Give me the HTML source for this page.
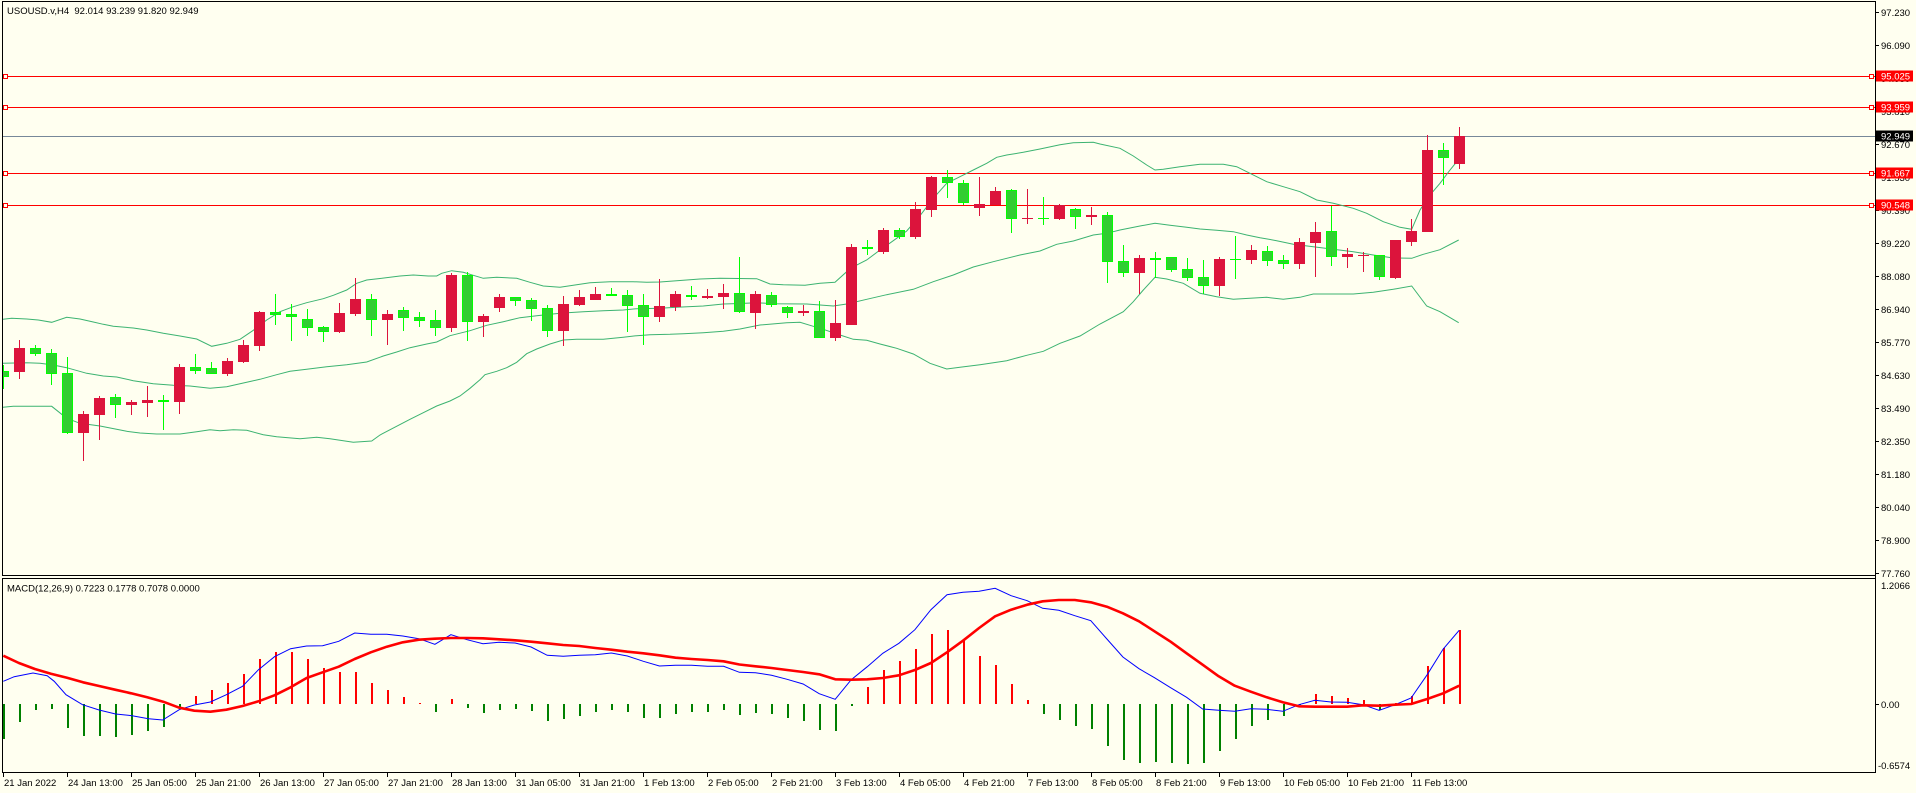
<!DOCTYPE html>
<html><head><meta charset="utf-8"><style>
html,body{margin:0;padding:0;background:#FFFFF0;}
svg{display:block;}
text{font-family:"Liberation Sans",Arial,sans-serif;font-size:9.5px;fill:#000;}
.rw{stroke:#DC143C;stroke-width:1;fill:none;}
.gw{stroke:#00FF00;stroke-width:1;fill:none;}
.r{fill:#DC143C;}
.g{fill:#32CD32;stroke:#00FF00;stroke-width:1;}
.gd{fill:#00FF00;}
.hr{fill:#FF0000;}
.hg{fill:#008000;}
.bb{fill:none;stroke:#3CB371;stroke-width:1;}
</style></head><body>
<svg width="1916" height="793" viewBox="0 0 1916 793" xmlns="http://www.w3.org/2000/svg">
<rect x="0" y="0" width="1916" height="793" fill="#FFFFF0"/>
<defs>
<clipPath id="cm"><rect x="3" y="2" width="1872" height="573"/></clipPath>
<clipPath id="cd"><rect x="3" y="579" width="1872" height="193"/></clipPath>
</defs>

<!-- horizontal level lines -->
<g shape-rendering="crispEdges">
<line x1="2" y1="76.5" x2="1875" y2="76.5" stroke="#FF0000"/>
<line x1="2" y1="107.5" x2="1875" y2="107.5" stroke="#FF0000"/>
<line x1="2" y1="136.5" x2="1875" y2="136.5" stroke="#778899"/>
<line x1="2" y1="173.5" x2="1875" y2="173.5" stroke="#FF0000"/>
<line x1="2" y1="205.5" x2="1875" y2="205.5" stroke="#FF0000"/>
<rect x="3.5" y="74.5" width="4" height="4" fill="#FFFFF0" stroke="#FF0000"/>
<rect x="3.5" y="105.5" width="4" height="4" fill="#FFFFF0" stroke="#FF0000"/>
<rect x="3.5" y="171.5" width="4" height="4" fill="#FFFFF0" stroke="#FF0000"/>
<rect x="3.5" y="203.5" width="4" height="4" fill="#FFFFF0" stroke="#FF0000"/>
<rect x="1869.5" y="74.5" width="4" height="4" fill="#FFFFF0" stroke="#FF0000"/>
<rect x="1869.5" y="105.5" width="4" height="4" fill="#FFFFF0" stroke="#FF0000"/>
<rect x="1869.5" y="171.5" width="4" height="4" fill="#FFFFF0" stroke="#FF0000"/>
<rect x="1869.5" y="203.5" width="4" height="4" fill="#FFFFF0" stroke="#FF0000"/>
</g>

<g clip-path="url(#cm)">
<!-- Bollinger bands -->
<polyline class="bb" points="2.7,319.3 11.7,318.3 26.7,319 38.3,320 51.7,322.3 66.7,317.3 80,319 93.3,322 103.3,324.3 113.3,326.3 133.3,328 146.7,330 163.3,333.3 180,336 196.7,339 211.7,346.3 226.7,343.3 240,339.3 253.3,330.3 266.7,320 280,311.7 293.3,306.7 306.7,302.7 323.3,298.7 333.3,295.3 346.7,290 356.7,283.3 366.7,280 380,278.5 400,276 413.3,275 428.3,276 436.7,276 441.7,273.3 451.7,270.7 463.3,272.3 473.3,275.3 483.3,278.3 496.7,277.3 516.7,278.3 530,282.3 543.3,286 560,287.3 573.3,285.3 590,282.7 610,281.7 633.3,281.7 646.7,282.3 660,282 673.3,281 700,279 720,278.3 756.7,278.7 770,284 783.3,284.7 805,285.3 820,283.3 835,282.3 846.7,271.7 856.7,265 866.7,260 880,250 893.3,240.7 906.7,231 920,215.7 933.3,198.3 946.7,183.3 960,176.7 973.3,170 986.7,163.3 996.7,157.3 1006.7,155 1023.3,152.3 1040,149 1060,144.7 1073.3,142.7 1093.3,142.3 1100,144 1120,148.3 1133.3,156 1146.7,165 1155,170 1163.3,169.3 1180,166.7 1200,164.3 1223.3,164.3 1236.7,166.7 1246.7,171.7 1266.7,181.7 1283.3,186.7 1300,191.7 1316.7,200 1333.3,203.3 1353.3,208.3 1366.7,213.3 1383.3,221.7 1400,227.3 1411.7,229.3 1420,210 1430,195 1440,183.3 1450,170 1458.7,159.3"/>
<polyline class="bb" points="2.7,363.3 26.7,362.7 40,363.3 53.3,365 66.7,367.7 86.7,373.3 103.3,376 116.7,377 133.3,380.7 153.3,383.7 173.3,385.3 190,386 210,388.3 226.7,386.7 240,383.7 260,379.3 276.7,374.7 290,371.3 306.7,369.3 326.7,366.7 346.7,364.7 366.7,362 383.3,356 396.7,352 410,347.7 426.7,344 436.7,342 450,335.7 470,330.7 486.7,325.3 503.3,321.7 520,317.7 536.7,315.7 550,314.3 563.3,313 583.3,311.7 603.3,310.7 623.3,310 636.7,308.7 660,308.3 676.7,307.3 703.3,306 723.3,304 740,303.5 756.7,302.7 773.3,303.7 806.7,304 833.3,306 846.7,304 866.7,299.3 886.7,294.7 913.3,289.3 933.3,281.7 953.3,275 973.3,267 993.3,261.7 1020,255 1040,251 1056.7,244.3 1073.3,241 1093.3,235 1106.7,233.3 1120,230 1140,226 1155,223.3 1170,225.3 1186.7,227.3 1200,229 1216.7,230.3 1233.3,231.7 1246.7,235 1260,237.7 1276.7,240.7 1293.3,244.3 1313.3,246.7 1333.3,249.3 1353.3,251.7 1373.3,255 1393.3,258 1411.7,258.3 1423.3,254.3 1440,249.7 1458.7,240"/>
<polyline class="bb" points="2.7,407.3 13.3,406.3 51.7,406.3 66.7,418.3 80,423.3 100,426 126.7,431.3 140,433 156.7,434 180,434 196.7,431.7 210,429.7 220,430.7 233.3,429.7 246.7,430.3 263.3,434.7 276.7,436.7 300,438.7 316.7,437.3 330,438.7 353.3,442.3 371.7,441 380,435 410,419.3 423.3,412.7 436.7,406 450,401 460,396 470,388.3 480,379.7 485,374.7 496.7,371.3 506.7,367.7 516.7,362.3 526.7,353.7 536.7,349 550,344 563.3,340 576.7,339.3 603.3,339.3 623.3,337.3 636.7,335.7 650,334.7 670,334.3 683.3,333.7 703.3,332.7 723.3,331.3 740,329 760,325 786.7,322.7 800,322.3 810,325.3 823.3,329.3 840,335 853.3,339.3 866.7,340.3 880,344 896.7,348.3 913.3,354 930,363.3 946.7,369 960,367.3 980,364.7 1006.7,360.7 1026.7,355.3 1043.3,351.3 1060,343.3 1080,336 1100,324 1123.3,311.7 1133.3,301.7 1143.3,290 1155,277.3 1166.7,279 1183.3,283.3 1200,293.3 1216.7,296.7 1233.3,299.3 1250,298.3 1266.7,297.3 1283.3,299.3 1300,297.3 1313.3,294 1353.3,294 1373.3,292.3 1393.3,289.3 1411.7,286 1426.7,306 1440,311.7 1458.7,322.7"/>

<!-- candles -->
<g shape-rendering="crispEdges">
<path class="gw" d="M3.5 365V389"/><rect class="g" x="-1.5" y="371.5" width="10" height="5"/>
<path class="rw" d="M19.5 340V379"/><rect class="r" x="14" y="348" width="11" height="24"/>
<path class="gw" d="M35.5 345V356"/><rect class="g" x="30.5" y="348.5" width="10" height="5"/>
<path class="gw" d="M51.5 349V385"/><rect class="g" x="46.5" y="353.5" width="10" height="20"/>
<path class="gw" d="M67.5 357V434"/><rect class="g" x="62.5" y="373.5" width="10" height="59"/>
<path class="rw" d="M83.5 411V461"/><rect class="r" x="78" y="414" width="11" height="19"/>
<path class="rw" d="M99.5 396V440"/><rect class="r" x="94" y="398" width="11" height="17"/>
<path class="gw" d="M115.5 394V418"/><rect class="g" x="110.5" y="397.5" width="10" height="7"/>
<path class="rw" d="M131.5 400V415"/><rect class="r" x="126" y="402" width="11" height="3"/>
<path class="rw" d="M147.5 386V417"/><rect class="r" x="142" y="400" width="11" height="3"/>
<path class="gw" d="M163.5 395V430"/><rect class="gd" x="158" y="400" width="11" height="2"/>
<path class="rw" d="M179.5 364V414"/><rect class="r" x="174" y="367" width="11" height="35"/>
<path class="gw" d="M195.5 354V374"/><rect class="g" x="190.5" y="367.5" width="10" height="3"/>
<path class="gw" d="M211.5 362V374"/><rect class="g" x="206.5" y="368.5" width="10" height="5"/>
<path class="rw" d="M227.5 358V376"/><rect class="r" x="222" y="361" width="11" height="13"/>
<path class="rw" d="M243.5 340V363"/><rect class="r" x="238" y="345" width="11" height="17"/>
<path class="rw" d="M259.5 311V351"/><rect class="r" x="254" y="312" width="11" height="34"/>
<path class="gw" d="M275.5 294V325"/><rect class="g" x="270.5" y="312.5" width="10" height="2"/>
<path class="gw" d="M291.5 304V341"/><rect class="g" x="286.5" y="314.5" width="10" height="2"/>
<path class="gw" d="M307.5 309V336"/><rect class="g" x="302.5" y="319.5" width="10" height="8"/>
<path class="gw" d="M323.5 326V342"/><rect class="g" x="318.5" y="327.5" width="10" height="4"/>
<path class="rw" d="M339.5 303V333"/><rect class="r" x="334" y="313" width="11" height="19"/>
<path class="rw" d="M355.5 278V316"/><rect class="r" x="350" y="299" width="11" height="15"/>
<path class="gw" d="M371.5 294V336"/><rect class="g" x="366.5" y="299.5" width="10" height="20"/>
<path class="rw" d="M387.5 310V345"/><rect class="r" x="382" y="314" width="11" height="6"/>
<path class="gw" d="M403.5 307V331"/><rect class="g" x="398.5" y="310.5" width="10" height="7"/>
<path class="gw" d="M419.5 312V327"/><rect class="g" x="414.5" y="317.5" width="10" height="3"/>
<path class="gw" d="M435.5 310V336"/><rect class="g" x="430.5" y="320.5" width="10" height="7"/>
<path class="rw" d="M451.5 273V332"/><rect class="r" x="446" y="275" width="11" height="53"/>
<path class="gw" d="M467.5 272V341"/><rect class="g" x="462.5" y="275.5" width="10" height="46"/>
<path class="rw" d="M483.5 314V337"/><rect class="r" x="478" y="316" width="11" height="6"/>
<path class="rw" d="M499.5 294V312"/><rect class="r" x="494" y="297" width="11" height="11"/>
<path class="gw" d="M515.5 297V306"/><rect class="g" x="510.5" y="297.5" width="10" height="3"/>
<path class="gw" d="M531.5 298V321"/><rect class="g" x="526.5" y="300.5" width="10" height="8"/>
<path class="gw" d="M547.5 305V337"/><rect class="g" x="542.5" y="308.5" width="10" height="22"/>
<path class="rw" d="M563.5 296V346"/><rect class="r" x="558" y="304" width="11" height="27"/>
<path class="rw" d="M579.5 290V306"/><rect class="r" x="574" y="297" width="11" height="8"/>
<path class="rw" d="M595.5 287V300"/><rect class="r" x="590" y="294" width="11" height="6"/>
<path class="gw" d="M611.5 288V296"/><rect class="gd" x="606" y="294" width="11" height="2"/>
<path class="gw" d="M627.5 290V332"/><rect class="g" x="622.5" y="295.5" width="10" height="10"/>
<path class="gw" d="M643.5 294V345"/><rect class="g" x="638.5" y="305.5" width="10" height="11"/>
<path class="rw" d="M659.5 279V322"/><rect class="r" x="654" y="306" width="11" height="11"/>
<path class="rw" d="M675.5 291V311"/><rect class="r" x="670" y="294" width="11" height="13"/>
<path class="gw" d="M691.5 286V300"/><rect class="gd" x="686" y="295" width="11" height="2"/>
<path class="rw" d="M707.5 289V299"/><rect class="r" x="702" y="296" width="11" height="2"/>
<path class="rw" d="M723.5 284V309"/><rect class="r" x="718" y="293" width="11" height="4"/>
<path class="gw" d="M739.5 257V313"/><rect class="g" x="734.5" y="293.5" width="10" height="18"/>
<path class="rw" d="M755.5 291V329"/><rect class="r" x="750" y="294" width="11" height="19"/>
<path class="gw" d="M771.5 292V307"/><rect class="g" x="766.5" y="295.5" width="10" height="9"/>
<path class="gw" d="M787.5 306V318"/><rect class="g" x="782.5" y="307.5" width="10" height="5"/>
<path class="rw" d="M803.5 305V316"/><rect class="r" x="798" y="311" width="11" height="2"/>
<path class="gw" d="M819.5 301V338"/><rect class="g" x="814.5" y="311.5" width="10" height="26"/>
<path class="rw" d="M835.5 300V341"/><rect class="r" x="830" y="323" width="11" height="15"/>
<path class="rw" d="M851.5 244V325"/><rect class="r" x="846" y="247" width="11" height="78"/>
<path class="gw" d="M867.5 240V255"/><rect class="gd" x="862" y="247" width="11" height="2"/>
<path class="rw" d="M883.5 228V254"/><rect class="r" x="878" y="230" width="11" height="22"/>
<path class="gw" d="M899.5 228V239"/><rect class="g" x="894.5" y="230.5" width="10" height="6"/>
<path class="rw" d="M915.5 202V239"/><rect class="r" x="910" y="209" width="11" height="28"/>
<path class="rw" d="M931.5 176V217"/><rect class="r" x="926" y="177" width="11" height="33"/>
<path class="gw" d="M947.5 170V198"/><rect class="g" x="942.5" y="177.5" width="10" height="5"/>
<path class="gw" d="M963.5 180V205"/><rect class="g" x="958.5" y="183.5" width="10" height="19"/>
<path class="rw" d="M979.5 177V216"/><rect class="r" x="974" y="204" width="11" height="4"/>
<path class="rw" d="M995.5 187V205"/><rect class="r" x="990" y="191" width="11" height="14"/>
<path class="gw" d="M1011.5 189V233"/><rect class="g" x="1006.5" y="190.5" width="10" height="28"/>
<path class="rw" d="M1027.5 189V224"/><rect class="r" x="1022" y="218" width="11" height="1"/>
<path class="gw" d="M1043.5 197V225"/><rect class="gd" x="1038" y="218" width="11" height="1"/>
<path class="rw" d="M1059.5 204V220"/><rect class="r" x="1054" y="205" width="11" height="14"/>
<path class="gw" d="M1075.5 208V229"/><rect class="g" x="1070.5" y="209.5" width="10" height="7"/>
<path class="rw" d="M1091.5 207V225"/><rect class="r" x="1086" y="215" width="11" height="2"/>
<path class="gw" d="M1107.5 212V283"/><rect class="g" x="1102.5" y="215.5" width="10" height="46"/>
<path class="gw" d="M1123.5 245V277"/><rect class="g" x="1118.5" y="261.5" width="10" height="11"/>
<path class="rw" d="M1139.5 255V294"/><rect class="r" x="1134" y="258" width="11" height="15"/>
<path class="gw" d="M1155.5 252V278"/><rect class="gd" x="1150" y="258" width="11" height="2"/>
<path class="gw" d="M1171.5 257V272"/><rect class="g" x="1166.5" y="257.5" width="10" height="12"/>
<path class="gw" d="M1187.5 258V281"/><rect class="g" x="1182.5" y="269.5" width="10" height="8"/>
<path class="gw" d="M1203.5 260V294"/><rect class="g" x="1198.5" y="277.5" width="10" height="8"/>
<path class="rw" d="M1219.5 257V296"/><rect class="r" x="1214" y="259" width="11" height="27"/>
<path class="gw" d="M1235.5 236V279"/><rect class="gd" x="1230" y="259" width="11" height="1"/>
<path class="rw" d="M1251.5 245V264"/><rect class="r" x="1246" y="250" width="11" height="10"/>
<path class="gw" d="M1267.5 246V266"/><rect class="g" x="1262.5" y="251.5" width="10" height="9"/>
<path class="gw" d="M1283.5 255V269"/><rect class="g" x="1278.5" y="260.5" width="10" height="3"/>
<path class="rw" d="M1299.5 238V269"/><rect class="r" x="1294" y="242" width="11" height="22"/>
<path class="rw" d="M1315.5 222V277"/><rect class="r" x="1310" y="232" width="11" height="11"/>
<path class="gw" d="M1331.5 206V266"/><rect class="g" x="1326.5" y="231.5" width="10" height="25"/>
<path class="rw" d="M1347.5 248V268"/><rect class="r" x="1342" y="254" width="11" height="3"/>
<path class="rw" d="M1363.5 252V272"/><rect class="r" x="1358" y="255" width="11" height="1"/>
<path class="gw" d="M1379.5 255V280"/><rect class="g" x="1374.5" y="255.5" width="10" height="21"/>
<path class="rw" d="M1395.5 240V279"/><rect class="r" x="1390" y="240" width="11" height="38"/>
<path class="rw" d="M1411.5 219V246"/><rect class="r" x="1406" y="231" width="11" height="11"/>
<path class="rw" d="M1427.5 135V232"/><rect class="r" x="1422" y="150" width="11" height="82"/>
<path class="gw" d="M1443.5 143V185"/><rect class="g" x="1438.5" y="150.5" width="10" height="7"/>
<path class="rw" d="M1459.5 127V169"/><rect class="r" x="1454" y="136" width="11" height="28"/>
</g>
</g>

<!-- MACD histogram -->
<g clip-path="url(#cd)" shape-rendering="crispEdges">
<rect class="hg" x="3" y="704" width="2" height="35"/>
<rect class="hg" x="19" y="704" width="2" height="18"/>
<rect class="hg" x="35" y="704" width="2" height="6"/>
<rect class="hg" x="51" y="704" width="2" height="5"/>
<rect class="hg" x="67" y="704" width="2" height="24"/>
<rect class="hg" x="83" y="704" width="2" height="32"/>
<rect class="hg" x="99" y="704" width="2" height="32"/>
<rect class="hg" x="115" y="704" width="2" height="33"/>
<rect class="hg" x="131" y="704" width="2" height="31"/>
<rect class="hg" x="147" y="704" width="2" height="27"/>
<rect class="hg" x="163" y="704" width="2" height="23"/>
<rect class="hg" x="179" y="704" width="2" height="4"/>
<rect class="hr" x="195" y="696" width="2" height="8"/>
<rect class="hr" x="211" y="690" width="2" height="14"/>
<rect class="hr" x="227" y="683" width="2" height="21"/>
<rect class="hr" x="243" y="674" width="2" height="30"/>
<rect class="hr" x="259" y="659" width="2" height="45"/>
<rect class="hr" x="275" y="652" width="2" height="52"/>
<rect class="hr" x="291" y="652" width="2" height="52"/>
<rect class="hr" x="307" y="659" width="2" height="45"/>
<rect class="hr" x="323" y="668" width="2" height="36"/>
<rect class="hr" x="339" y="672" width="2" height="32"/>
<rect class="hr" x="355" y="672" width="2" height="32"/>
<rect class="hr" x="371" y="683" width="2" height="21"/>
<rect class="hr" x="387" y="690" width="2" height="14"/>
<rect class="hr" x="403" y="697" width="2" height="7"/>
<rect class="hr" x="419" y="703" width="2" height="1"/>
<rect class="hg" x="435" y="704" width="2" height="8"/>
<rect class="hr" x="451" y="699" width="2" height="5"/>
<rect class="hg" x="467" y="704" width="2" height="4"/>
<rect class="hg" x="483" y="704" width="2" height="9"/>
<rect class="hg" x="499" y="704" width="2" height="6"/>
<rect class="hg" x="515" y="704" width="2" height="5"/>
<rect class="hg" x="531" y="704" width="2" height="7"/>
<rect class="hg" x="547" y="704" width="2" height="17"/>
<rect class="hg" x="563" y="704" width="2" height="15"/>
<rect class="hg" x="579" y="704" width="2" height="12"/>
<rect class="hg" x="595" y="704" width="2" height="8"/>
<rect class="hg" x="611" y="704" width="2" height="6"/>
<rect class="hg" x="627" y="704" width="2" height="8"/>
<rect class="hg" x="643" y="704" width="2" height="14"/>
<rect class="hg" x="659" y="704" width="2" height="14"/>
<rect class="hg" x="675" y="704" width="2" height="10"/>
<rect class="hg" x="691" y="704" width="2" height="8"/>
<rect class="hg" x="707" y="704" width="2" height="8"/>
<rect class="hg" x="723" y="704" width="2" height="6"/>
<rect class="hg" x="739" y="704" width="2" height="11"/>
<rect class="hg" x="755" y="704" width="2" height="9"/>
<rect class="hg" x="771" y="704" width="2" height="10"/>
<rect class="hg" x="787" y="704" width="2" height="14"/>
<rect class="hg" x="803" y="704" width="2" height="17"/>
<rect class="hg" x="819" y="704" width="2" height="26"/>
<rect class="hg" x="835" y="704" width="2" height="27"/>
<rect class="hg" x="851" y="704" width="2" height="2"/>
<rect class="hr" x="867" y="687" width="2" height="17"/>
<rect class="hr" x="883" y="670" width="2" height="34"/>
<rect class="hr" x="899" y="661" width="2" height="43"/>
<rect class="hr" x="915" y="649" width="2" height="55"/>
<rect class="hr" x="931" y="634" width="2" height="70"/>
<rect class="hr" x="947" y="630" width="2" height="74"/>
<rect class="hr" x="963" y="640" width="2" height="64"/>
<rect class="hr" x="979" y="656" width="2" height="48"/>
<rect class="hr" x="995" y="665" width="2" height="39"/>
<rect class="hr" x="1011" y="684" width="2" height="20"/>
<rect class="hr" x="1027" y="700" width="2" height="4"/>
<rect class="hg" x="1043" y="704" width="2" height="10"/>
<rect class="hg" x="1059" y="704" width="2" height="16"/>
<rect class="hg" x="1075" y="704" width="2" height="22"/>
<rect class="hg" x="1091" y="704" width="2" height="25"/>
<rect class="hg" x="1107" y="704" width="2" height="42"/>
<rect class="hg" x="1123" y="704" width="2" height="56"/>
<rect class="hg" x="1139" y="704" width="2" height="59"/>
<rect class="hg" x="1155" y="704" width="2" height="58"/>
<rect class="hg" x="1171" y="704" width="2" height="59"/>
<rect class="hg" x="1187" y="704" width="2" height="60"/>
<rect class="hg" x="1203" y="704" width="2" height="59"/>
<rect class="hg" x="1219" y="704" width="2" height="47"/>
<rect class="hg" x="1235" y="704" width="2" height="35"/>
<rect class="hg" x="1251" y="704" width="2" height="22"/>
<rect class="hg" x="1267" y="704" width="2" height="16"/>
<rect class="hg" x="1283" y="704" width="2" height="12"/>
<rect class="hg" x="1299" y="704" width="2" height="1"/>
<rect class="hr" x="1315" y="694" width="2" height="10"/>
<rect class="hr" x="1331" y="696" width="2" height="8"/>
<rect class="hr" x="1347" y="698" width="2" height="6"/>
<rect class="hr" x="1363" y="700" width="2" height="4"/>
<rect class="hg" x="1379" y="704" width="2" height="6"/>
<rect class="hr" x="1395" y="703" width="2" height="1"/>
<rect class="hr" x="1411" y="696" width="2" height="8"/>
<rect class="hr" x="1427" y="666" width="2" height="38"/>
<rect class="hr" x="1443" y="648" width="2" height="56"/>
<rect class="hr" x="1459" y="630" width="2" height="74"/>
</g>
<g clip-path="url(#cd)">
<polyline fill="none" stroke="#0000FF" stroke-width="1" points="3.3,681.3 14.2,676.7 33,673 47.2,675.7 54.2,681.3 66,694.7 82.5,704.7 99.1,710 115.6,714 132.1,715.7 148.6,718.7 162.7,720 179.2,709.7 194.3,705 210.4,702 226.4,694.7 242.5,686.3 258.5,669.7 274.5,656.7 290.6,648.7 306.6,646 322.6,645.7 338.7,641.3 354.7,633 370.8,634.3 386.8,634.3 402.8,636 418.9,638.7 434.9,644.3 450.9,634.7 467,639.7 483,643.7 499.1,642.3 515.1,643 531.1,647 547.2,655.3 563.2,656.3 579.2,655.3 595.3,654.7 611.3,653 627.4,656 643.4,661.3 659.4,666 675.5,665.3 691.5,665.3 707.5,666.3 723.6,666.3 739.4,672.3 755.5,672.7 771.5,675.3 787.1,679.3 803.1,684 819.2,693.7 835.2,699.3 851.2,679.7 867.3,666.7 882.8,653.3 898.9,643.3 914.9,629.7 930.9,609.7 947,594.7 963,592.3 979.1,591.3 995.1,588.3 1011.1,595.7 1027.2,600.7 1042.7,608.3 1058.8,610.3 1074.8,615.7 1090.8,620.7 1106.9,639 1122.9,657 1139,668.7 1154.5,677.7 1170.6,687.7 1186.6,697.3 1202.6,709 1218.7,710.3 1234.7,711.3 1250.8,708.7 1266.8,709.3 1282.8,711.3 1298.9,704.7 1314.9,700.3 1331,702 1347,702.3 1363,704.7 1379.1,710.3 1395.1,704.7 1411.1,698 1427.2,674.7 1443.2,649 1459.2,630.3"/>
<polyline fill="none" stroke="#FF0000" stroke-width="2.6" stroke-linejoin="round" points="3.3,655.7 18.9,663 34.9,669 50.9,673.7 67,677.7 83,682.3 99.1,686 115.1,689.7 131.1,693.3 147.2,697.3 163.2,701.7 179.2,707.7 194.3,710.7 210.4,711.7 226.4,709.7 242.5,706 258.5,701.3 274.5,695.3 290.6,687.3 306.6,678 322.6,672.3 338.7,666.7 354.7,659 370.8,652.3 386.8,646.7 402.8,642.3 418.9,639.7 434.9,638.7 450.9,638 467,638 483,638.3 499.1,639.3 515.1,640.3 531.1,641.7 547.2,643.3 563.2,645 579.2,646 595.3,648 611.3,649.7 627.4,651.7 643.4,653.3 659.4,655.3 675.5,657.7 691.5,659 707.5,660 723.6,661.3 739.4,664.5 755.5,666.3 771.5,668 787.1,670 803.1,672 819.2,674.3 835.2,679.3 851.2,679.7 867.3,679.3 882.8,678 898.9,675.3 914.9,670 930.9,663 947,652.3 963,640.7 979.1,628 995.1,616.3 1011.1,609.7 1027.2,604.7 1042.7,601.3 1058.8,600 1074.8,600 1090.8,602.3 1106.9,606.7 1122.9,613.3 1139,621.3 1154.5,631.3 1170.6,641.7 1186.6,653.3 1202.6,664.7 1218.7,676.3 1234.7,685.7 1250.8,691.7 1266.8,697.3 1282.8,702.3 1298.9,706.3 1314.9,706.7 1331,706.7 1347,706.7 1363,705.3 1379.1,705.7 1395.1,704.7 1411.1,704 1427.2,699 1443.2,693.3 1459.2,685.7"/>
</g>

<!-- pane borders -->
<g shape-rendering="crispEdges" stroke="#000" stroke-width="1" fill="none">
<line x1="2" y1="1.5" x2="1876" y2="1.5"/>
<line x1="2.5" y1="1" x2="2.5" y2="576"/>
<line x1="2" y1="575.5" x2="1876" y2="575.5"/>
<line x1="2" y1="578.5" x2="1876" y2="578.5"/>
<line x1="2.5" y1="578" x2="2.5" y2="773"/>
<line x1="2" y1="772.5" x2="1876" y2="772.5"/>
<line x1="1875.5" y1="1" x2="1875.5" y2="773"/>
<!-- price ticks -->
<path d="M1875 12.5h4M1875 45.5h4M1875 78.5h4M1875 111.5h4M1875 144.5h4M1875 177.5h4M1875 210.5h4M1875 243.5h4M1875 276.5h4M1875 309.5h4M1875 342.5h4M1875 375.5h4M1875 408.5h4M1875 441.5h4M1875 474.5h4M1875 507.5h4M1875 540.5h4M1875 573.5h4M1875 704.5h4"/>
<!-- time ticks -->
<path d="M3.5 772v5M67.5 772v5M131.5 772v5M195.5 772v5M259.5 772v5M323.5 772v5M387.5 772v5M451.5 772v5M515.5 772v5M579.5 772v5M643.5 772v5M707.5 772v5M771.5 772v5M835.5 772v5M899.5 772v5M963.5 772v5M1027.5 772v5M1091.5 772v5M1155.5 772v5M1219.5 772v5M1283.5 772v5M1347.5 772v5M1411.5 772v5"/>
</g>

<!-- titles -->
<text x="7" y="14" xml:space="preserve">USOUSD.v,H4  92.014 93.239 91.820 92.949</text>
<text x="7" y="591.5">MACD(12,26,9) 0.7223 0.1778 0.7078 0.0000</text>

<!-- price axis labels -->
<g>
<text x="1881" y="16">97.230</text>
<text x="1881" y="49">96.090</text>
<text x="1881" y="82">94.950</text>
<text x="1881" y="115">93.810</text>
<text x="1881" y="148">92.670</text>
<text x="1881" y="181">91.530</text>
<text x="1881" y="214">90.390</text>
<text x="1881" y="247">89.220</text>
<text x="1881" y="280">88.080</text>
<text x="1881" y="313">86.940</text>
<text x="1881" y="346">85.770</text>
<text x="1881" y="379">84.630</text>
<text x="1881" y="412">83.490</text>
<text x="1881" y="445">82.350</text>
<text x="1881" y="478">81.180</text>
<text x="1881" y="511">80.040</text>
<text x="1881" y="544">78.900</text>
<text x="1881" y="577">77.760</text>
<text x="1881" y="589">1.2066</text>
<text x="1881" y="708">0.00</text>
<text x="1878" y="769">-0.6574</text>
</g>

<!-- level labels -->
<g shape-rendering="crispEdges">
<rect x="1876" y="70.5" width="37" height="11" fill="#FF0000"/>
<rect x="1876" y="101.5" width="37" height="11" fill="#FF0000"/>
<rect x="1876" y="130.5" width="37" height="11" fill="#000000"/>
<rect x="1876" y="167.5" width="37" height="11" fill="#FF0000"/>
<rect x="1876" y="199.5" width="37" height="11" fill="#FF0000"/>
</g>
<text x="1881" y="79.5" style="fill:#fff">95.025</text>
<text x="1881" y="110.5" style="fill:#fff">93.959</text>
<text x="1881" y="139.5" style="fill:#fff">92.949</text>
<text x="1881" y="176.5" style="fill:#fff">91.667</text>
<text x="1881" y="208.5" style="fill:#fff">90.548</text>

<!-- time labels -->
<g>
<text x="4" y="786">21 Jan 2022</text>
<text x="68" y="786">24 Jan 13:00</text>
<text x="132" y="786">25 Jan 05:00</text>
<text x="196" y="786">25 Jan 21:00</text>
<text x="260" y="786">26 Jan 13:00</text>
<text x="324" y="786">27 Jan 05:00</text>
<text x="388" y="786">27 Jan 21:00</text>
<text x="452" y="786">28 Jan 13:00</text>
<text x="516" y="786">31 Jan 05:00</text>
<text x="580" y="786">31 Jan 21:00</text>
<text x="644" y="786">1 Feb 13:00</text>
<text x="708" y="786">2 Feb 05:00</text>
<text x="772" y="786">2 Feb 21:00</text>
<text x="836" y="786">3 Feb 13:00</text>
<text x="900" y="786">4 Feb 05:00</text>
<text x="964" y="786">4 Feb 21:00</text>
<text x="1028" y="786">7 Feb 13:00</text>
<text x="1092" y="786">8 Feb 05:00</text>
<text x="1156" y="786">8 Feb 21:00</text>
<text x="1220" y="786">9 Feb 13:00</text>
<text x="1284" y="786">10 Feb 05:00</text>
<text x="1348" y="786">10 Feb 21:00</text>
<text x="1412" y="786">11 Feb 13:00</text>
</g>
</svg>
</body></html>
